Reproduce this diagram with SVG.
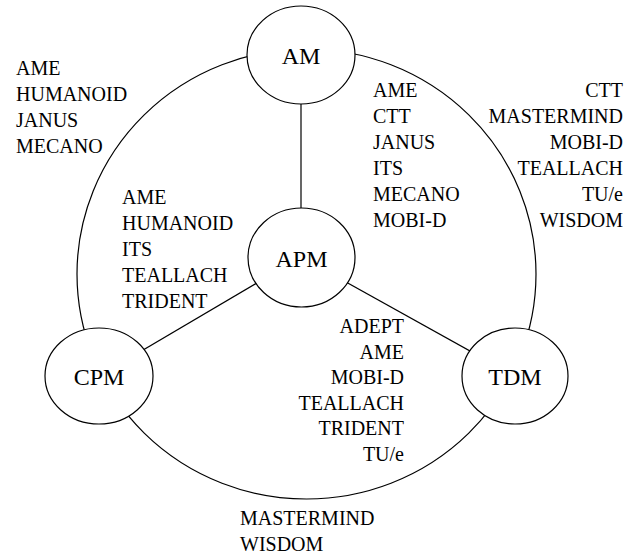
<svg xmlns="http://www.w3.org/2000/svg" width="630" height="555" viewBox="0 0 630 555">
  <style>
    .edge { fill: none; stroke: #000; stroke-width: 1.2; }
    .node ellipse { fill: #fff; stroke: #000; stroke-width: 1.2; }
    .node text { font-size: 24px; text-anchor: middle; fill: #000; }
    .list { font-size: 20px; fill: #000; }
    .right { text-anchor: end; }
  </style>
  <rect width="630" height="555" fill="#fff"/>

  <g font-family="Liberation Serif, DejaVu Serif, serif">
  <!-- connectors: outer ring and the three spokes from APM -->
  <g id="connectors">
    <ellipse class="edge" cx="306.5" cy="274" rx="229.5" ry="225"/>
    <line class="edge" x1="301" y1="55" x2="301" y2="257"/>
    <line class="edge" x1="301" y1="257" x2="99" y2="376"/>
    <line class="edge" x1="301" y1="257" x2="515" y2="376"/>
  </g>

  <g id="AM" class="node">
    <ellipse cx="301" cy="55" rx="54" ry="49"/>
    <text x="301" y="64">AM</text>
  </g>
  <g id="APM" class="node">
    <ellipse cx="301.5" cy="257.5" rx="53.5" ry="49.5"/>
    <text x="301.5" y="267">APM</text>
  </g>
  <g id="CPM" class="node">
    <ellipse cx="99" cy="376" rx="54" ry="48"/>
    <text x="99" y="385">CPM</text>
  </g>
  <g id="TDM" class="node">
    <ellipse cx="515" cy="376" rx="53" ry="48"/>
    <text x="515" y="385">TDM</text>
  </g>

  <!-- AM / CPM -->
  <g id="list-am-cpm" class="list">
    <text x="16" y="75">AME</text>
    <text x="16" y="101">HUMANOID</text>
    <text x="16" y="127">JANUS</text>
    <text x="16" y="153">MECANO</text>
  </g>

  <!-- AM / APM -->
  <g id="list-am-apm" class="list">
    <text x="373" y="97">AME</text>
    <text x="373" y="123">CTT</text>
    <text x="373" y="149">JANUS</text>
    <text x="373" y="175">ITS</text>
    <text x="373" y="201">MECANO</text>
    <text x="373" y="227">MOBI-D</text>
  </g>

  <!-- AM / TDM -->
  <g id="list-am-tdm" class="list right">
    <text x="623" y="97">CTT</text>
    <text x="623" y="123">MASTERMIND</text>
    <text x="623" y="149">MOBI-D</text>
    <text x="623" y="175">TEALLACH</text>
    <text x="623" y="201">TU/e</text>
    <text x="623" y="227">WISDOM</text>
  </g>

  <!-- APM / CPM -->
  <g id="list-apm-cpm" class="list">
    <text x="122" y="204">AME</text>
    <text x="122" y="230">HUMANOID</text>
    <text x="122" y="256">ITS</text>
    <text x="122" y="282">TEALLACH</text>
    <text x="122" y="308">TRIDENT</text>
  </g>

  <!-- APM / TDM -->
  <g id="list-apm-tdm" class="list right">
    <text x="404" y="333">ADEPT</text>
    <text x="404" y="358.5">AME</text>
    <text x="404" y="384">MOBI-D</text>
    <text x="404" y="409.5">TEALLACH</text>
    <text x="404" y="435">TRIDENT</text>
    <text x="404" y="460.5">TU/e</text>
  </g>

  <!-- CPM / TDM -->
  <g id="list-cpm-tdm" class="list">
    <text x="240" y="525">MASTERMIND</text>
    <text x="240" y="551">WISDOM</text>
  </g>
  </g>
</svg>
